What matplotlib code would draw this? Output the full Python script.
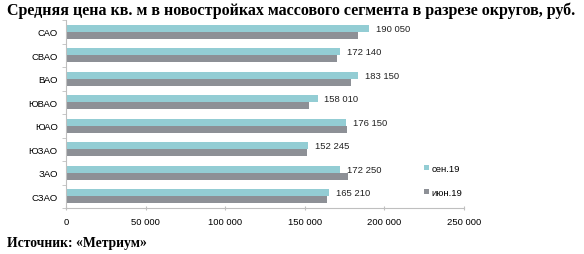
import numpy as np
import matplotlib.pyplot as plt

okruga = ["САО", "СВАО", "ВАО", "ЮВАО", "ЮАО", "ЮЗАО", "ЗАО", "СЗАО"]
sen19 = [190050, 172140, 183150, 158010, 176150, 152245, 172250, 165210]
iun19 = [183200, 170200, 178800, 152600, 176600, 151400, 177100, 163700]
xticks = [0, 50000, 100000, 150000, 200000, 250000]

kolor_sen = "#93CDD4"
kolor_iun = "#8D9096"
szary_os = "#BFBFBF"

fig = plt.figure(figsize=(5.84, 2.55), dpi=100)
ax = fig.add_axes([66 / 584, 46 / 255, 398 / 584, 188 / 255])

y = np.arange(len(okruga))
h = 0.29
b1 = ax.barh(y - h / 2, sen19, height=h, color=kolor_sen, label="сен.19")
b2 = ax.barh(y + h / 2, iun19, height=h, color=kolor_iun, label="июн.19")

# podpisy wartości
for yy, v in zip(y, sen19):
    ax.annotate(f"{v:,}".replace(",", " "), (v, yy - h / 2), xytext=(5, 0),
                textcoords="offset points", va="center", ha="left",
                fontsize=6.8, family="Liberation Sans", color="#222222")

ax.set_ylim(len(okruga) - 0.5, -0.5)
ax.set_xlim(0, 250000)
ax.set_yticks(y)
ax.set_yticklabels(okruga, family="Liberation Sans", fontsize=6.8)
ax.set_yticks(np.arange(len(okruga) + 1) - 0.5, minor=True)
ax.set_xticks(xticks)
ax.set_xticklabels([f"{t:,}".replace(",", " ") for t in xticks],
                   family="Liberation Sans", fontsize=6.8)

ax.tick_params(axis="y", which="major", length=0, pad=6)
ax.tick_params(axis="y", which="minor", length=3, color=szary_os, direction="out")
ax.tick_params(axis="x", length=3, color=szary_os, direction="inout", pad=5)

for s in ["top", "right"]:
    ax.spines[s].set_visible(False)
for s in ["left", "bottom"]:
    ax.spines[s].set_color(szary_os)
    ax.spines[s].set_linewidth(0.8)

ax.legend(handles=[b1, b2], loc="center left", bbox_to_anchor=(0.712, 0.288),
          bbox_transform=fig.transFigure, frameon=False,
          prop={"family": "Liberation Sans", "size": 6.8},
          handlelength=0.5, handleheight=0.5, handletextpad=0.3,
          labelspacing=1.6)

fig.text(0.012, 0.958, "Средняя цена кв. м в новостройках массового сегмента в разрезе округов, руб.",
         family="Liberation Serif", weight="bold", fontsize=11.5, va="center", ha="left")
fig.text(0.012, 0.045, "Источник: «Метриум»",
         family="Liberation Serif", weight="bold", fontsize=9.8, va="center", ha="left")

plt.savefig("out.png", dpi=100)
